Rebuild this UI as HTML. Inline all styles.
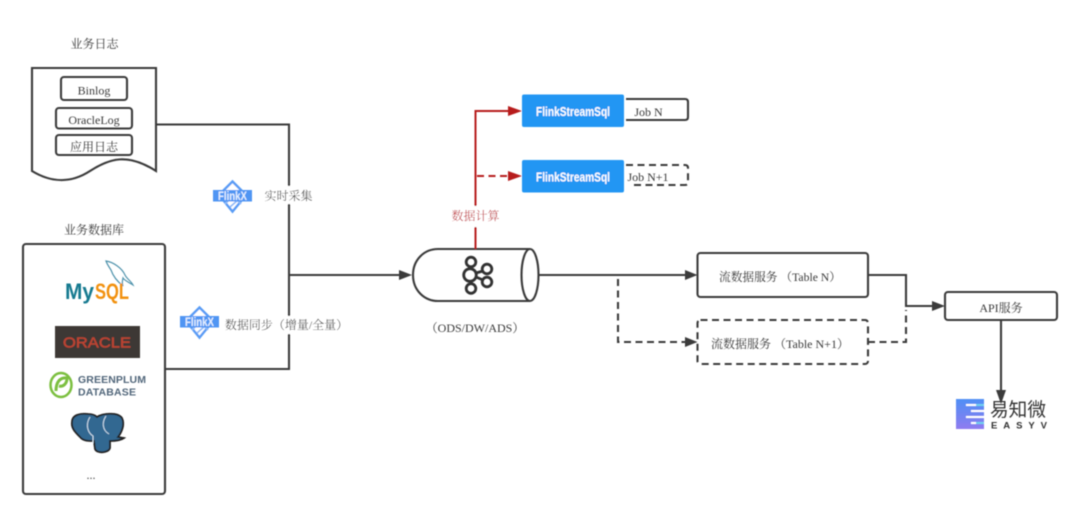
<!DOCTYPE html>
<html><head><meta charset="utf-8"><style>
html,body{margin:0;padding:0;background:#fff;width:1080px;height:517px;overflow:hidden}
svg{display:block}
text{font-family:"Liberation Serif","Noto Serif CJK SC",serif;font-size:12px;fill:#3a3a3a;text-anchor:middle}
text.s{text-anchor:start;font-family:"Liberation Sans",sans-serif}
.l{fill:none;stroke:#3a3a3a;stroke-width:2.100}
.d{stroke-dasharray:7 4.500}
.a{fill:#3a3a3a}
.r{fill:#b71c1c}
</style></head><body>
<svg width="1080" height="517" viewBox="0 0 1080 517" xmlns="http://www.w3.org/2000/svg">
<defs><filter id="b" x="-5%" y="-5%" width="110%" height="110%"><feGaussianBlur stdDeviation="0.450"/></filter>
<linearGradient id="g" x1="0" y1="0" x2="0" y2="1"><stop offset="0" stop-color="#4f8ff5"/><stop offset="1" stop-color="#8f7cf0"/></linearGradient>
<g id="fx">
<path d="M19.500 1.500L33 15L19.500 31.500L6 15Z" fill="#fff" stroke="#5a9cf5" stroke-width="2.500"/>
<path d="M12 24L20 16L28 24M17 27L25 20" fill="none" stroke="#8db9f8" stroke-width="1.800"/>
<rect x="0" y="10" width="39" height="11.500" fill="#4f95f3"/>
<text class="s" x="5" y="20" textLength="29" lengthAdjust="spacingAndGlyphs" style="font-size:12px;font-weight:bold;fill:#e6f0ff">FlinkX</text>
</g></defs>
<rect width="1080" height="517" fill="#fff"/>
<g filter="url(#b)">
<text x="94.500" y="48">业务日志</text>
<path class="l" d="M32 68H156V171C128 153 110 158 90 171C70 184 50 182 32 171Z"/>
<rect class="l" x="61" y="77" width="66" height="23" rx="3"/>
<text x="94" y="94.500">Binlog</text>
<rect class="l" x="56" y="108" width="76" height="20.500" rx="3"/>
<text x="94" y="124">OracleLog</text>
<rect class="l" x="56" y="135" width="76" height="20" rx="3"/>
<text x="94" y="151">应用日志</text>

<text x="94" y="234">业务数据库</text>
<rect class="l" x="23" y="244" width="142" height="250" rx="3"/>

<!-- mysql -->
<path d="M106 261C113 262 122 268 125 275C127 279 131 281 133 285C128 282 124 280 123 278C122 282 122 284 123 286C118 282 113 276 111 270C109 267 107 264 106 261Z" fill="none" stroke="#4f93ac" stroke-width="1.200"/>
<text class="s" x="65" y="299" textLength="29" lengthAdjust="spacingAndGlyphs" style="font-size:22px;font-weight:bold;fill:#137a90">My</text>
<text class="s" x="95" y="299" textLength="34" lengthAdjust="spacingAndGlyphs" style="font-size:22px;fill:#f29111;font-weight:bold">SQL</text>
<!-- oracle -->
<rect x="55" y="326" width="85" height="32" fill="#3d3935"/>
<text class="s" x="63" y="347.500" textLength="68" lengthAdjust="spacingAndGlyphs" style="font-size:15px;fill:#bd4433;stroke:#bd4433;stroke-width:.4px">ORACLE</text>
<!-- greenplum -->
<ellipse cx="61" cy="385" rx="10.500" ry="12" fill="none" stroke="#7cbf3f" stroke-width="2.500"/>
<path d="M56 391C56 382 60 377 67 378C67 384 63 387 59 386" fill="none" stroke="#7cbf3f" stroke-width="3"/>
<text class="s" x="78" y="383" textLength="68" lengthAdjust="spacing" style="font-size:10.500px;font-weight:bold;fill:#51667a">GREENPLUM</text>
<text class="s" x="78" y="395.500" textLength="58" lengthAdjust="spacing" style="font-size:10.500px;font-weight:bold;fill:#51667a">DATABASE</text>
<!-- postgres -->
<path d="M72 422C72 415 80 413 88 414C92 414 95 415 97 417C103 413 118 412 122 418C125 424 122 432 118 437L124 438C120 441 113 441 110 441L110 448C109 453 97 454 95 449L94 441C88 441 83 441 80 437C75 432 71 428 72 422Z" fill="#336791" stroke="#222" stroke-width="1.800"/>
<path d="M90 417C85 425 88 433 93 436L93 443M106 416C102 422 102 430 109 434" fill="none" stroke="#cfe0ee" stroke-width="1"/>
<text x="91" y="479">...</text>

<!-- connectors -->
<path class="l" d="M156 124.500H289V369H165"/>
<path class="l" d="M289 275H401"/>
<path class="a" d="M412 275L399 270V280Z"/>

<rect x="262" y="186" width="54" height="18" fill="#fff"/>
<text x="288.500" y="200">实时采集</text>
<use href="#fx" x="213" y="180"/>
<rect x="226" y="316" width="122" height="18" fill="#fff"/>
<text x="286.500" y="329">数据同步（增量/全量）</text>
<use href="#fx" x="180" y="306"/>

<!-- cylinder -->
<path class="l" d="M530 249H438C424 249 413 260 413 275C413 290 424 301 438 301H530"/>
<ellipse class="l" cx="530" cy="275" rx="8.500" ry="26"/>
<!-- kafka -->
<g fill="none" stroke="#333" stroke-width="2.800">
<circle cx="471" cy="262" r="4.800"/><circle cx="470" cy="275" r="6.300"/><circle cx="471" cy="288.500" r="4.800"/><circle cx="487" cy="269" r="4.800"/><circle cx="487" cy="282" r="4.800"/>
<path d="M471 266V270M471 280V284M476 273L483 271M476 277L483 280"/>
</g>
<text x="475" y="332">（ODS/DW/ADS）</text>

<!-- red -->
<path d="M475.500 249V111H511" fill="none" stroke="#b71c1c" stroke-width="2"/>
<path d="M477 176H510" fill="none" stroke="#b71c1c" stroke-width="2" stroke-dasharray="7 4.500"/>
<path class="r" d="M522 111L508 106V116Z"/><path class="r" d="M522 176L508 171V181Z"/>
<rect x="449" y="206" width="54" height="21" fill="#fff"/>
<text x="475.500" y="220" style="fill:#c0323a">数据计算</text>

<rect x="522" y="94.500" width="102" height="32.500" rx="2" fill="#2196f3"/>
<rect x="522" y="160" width="102" height="32.500" rx="2" fill="#2196f3"/>
<text class="s" x="536" y="116" textLength="74" lengthAdjust="spacingAndGlyphs" style="font-size:13px;font-weight:bold;fill:#fff">FlinkStreamSql</text>
<text class="s" x="536" y="181.500" textLength="74" lengthAdjust="spacingAndGlyphs" style="font-size:13px;font-weight:bold;fill:#fff">FlinkStreamSql</text>
<path class="l" d="M626 99H685Q688 99 688 102V117Q688 120 685 120H626"/>
<text x="648.500" y="116">Job N</text>
<path class="l d" d="M626 165H685Q688 165 688 168V182Q688 185 685 185H631"/>
<text x="648" y="181">Job N+1</text>

<!-- right -->
<path class="l" d="M539 275H686"/>
<path class="a" d="M697.500 275L685 270V280Z"/>
<path class="l d" d="M618 279V342H686"/>
<path class="a" d="M697.500 342L685 337V347Z"/>
<rect class="l" x="697.500" y="253" width="170.500" height="44" rx="3"/>
<text x="780" y="281" style="font-size:11.700px">流数据服务 （Table N）</text>
<rect class="l d" x="697.500" y="320" width="170.500" height="44" rx="3"/>
<text x="780" y="348">流数据服务 （Table N+1）</text>
<path class="l" d="M868 275H906V306H934"/>
<path class="l d" d="M868 342H906V310"/>
<path class="a" d="M945 306L932 301V311Z"/>
<rect class="l" x="945" y="292" width="112" height="28" rx="3"/>
<text x="1001" y="312">API服务</text>
<path class="l" d="M1001 320V392"/>
<path class="a" d="M1001 404L996 390H1006Z"/>

<!-- easyv -->
<rect x="956" y="399" width="28" height="30" fill="url(#g)"/>
<path d="M966 405H984M971 411H984M966 417H984M971 423H984" stroke="#fff" stroke-width="2"/>
<path d="M976 405h8M976 423h8" stroke="#6fd0ef" stroke-width="2"/>
<text class="s" x="990" y="416" textLength="56" lengthAdjust="spacingAndGlyphs" style="font-family:'Noto Sans CJK SC',sans-serif;font-size:19px;fill:#333">易知微</text>
<text class="s" x="991" y="428.500" textLength="56" style="font-size:9.500px;font-weight:bold;fill:#333">EASYV</text>
</g>
</svg>
</body></html>
